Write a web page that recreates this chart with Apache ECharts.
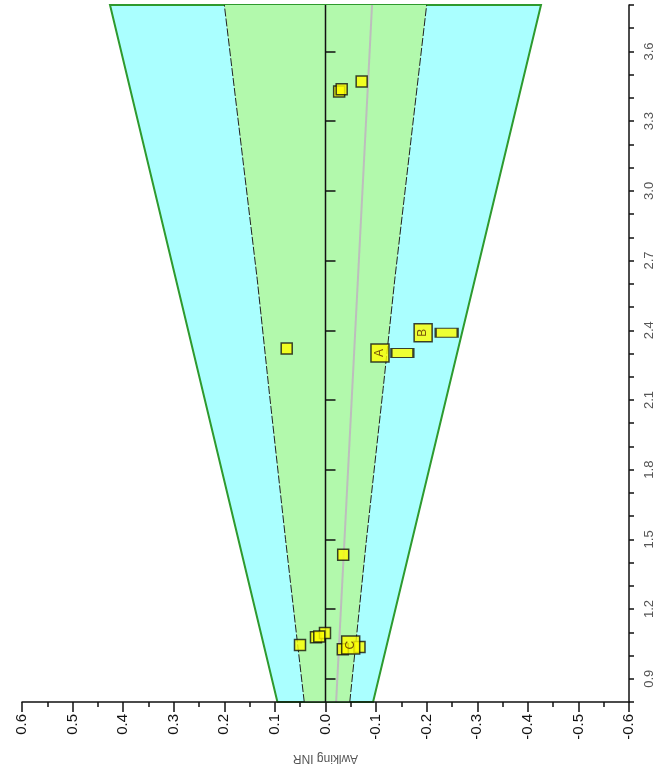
<!DOCTYPE html>
<html><head><meta charset="utf-8">
<script src="https://cdn.jsdelivr.net/npm/echarts@6/dist/echarts.min.js"></script>
<style>html,body{margin:0;padding:0;background:#fff}#c{width:664px;height:771px}</style>
</head><body><div id="c"></div>
<script>
// ---- data ----
const yMajorTicks = [0.9, 1.2, 1.5, 1.8, 2.1, 2.4, 2.7, 3.0, 3.3, 3.6];
const funnelY = [0.8, 3.8];
const outerLeft = [0.095, 0.426];
const outerRight = [-0.094, -0.426];
const innerY = [0.8, 1.5, 2.15, 2.62, 3.8];
const innerLeft = [0.042, 0.079, 0.112, 0.135, 0.2];
const innerRight = [-0.048, -0.081, -0.114, -0.137, -0.2];
const centerX = [0, 0];
const trendX = [-0.021, -0.092];
const smallX = [-0.027, -0.032, -0.0715, 0.0767, -0.035, 0.0504, 0.0188, 0.001, 0.0123, -0.0342, -0.0672];
const smallY = [3.428, 3.437, 3.471, 2.321, 1.434, 1.045, 1.079, 1.097, 1.082, 1.027, 1.037];
const barX = [-0.152, -0.2395];
const barY = [2.302, 2.389];
const bigLabels = ['A', 'B', 'C'];
const bigX = [-0.1077, -0.193, -0.0498];
const bigY = [2.302, 2.389, 1.045];

// ---- helpers ----
function polygonSeries(xs, ys, style, z) {
  return {
    type: 'custom', coordinateSystem: 'cartesian2d', silent: true, z: z,
    data: [[xs[0], ys[0]]],
    renderItem: function (params, api) {
      return { type: 'polygon', shape: { points: xs.map((x, i) => api.coord([x, ys[i]])) }, style: style };
    }
  };
}
function lineSeries(xs, ys, lineStyle, z) {
  return {
    type: 'line', silent: true, z: z, showSymbol: false, symbol: 'none',
    data: xs.map((x, i) => [x, ys[i]]), lineStyle: lineStyle, animation: false
  };
}
const rev = a => a.slice().reverse();

const outerXs = outerLeft.concat(rev(outerRight));
const outerYs = funnelY.concat(rev(funnelY));
const innerXs = innerLeft.concat(rev(innerRight));
const innerYs = innerY.concat(rev(innerY));

const symStyle = { color: '#ffff00', borderColor: '#111', borderWidth: 1.5 };

const option = {
  animation: false,
  backgroundColor: '#fff',
  grid: { left: 22, right: 35, top: 5, bottom: 69, containLabel: false, outerBoundsMode: 'none' },
  xAxis: {
    type: 'value', min: -0.6, max: 0.6, interval: 0.1, inverse: true, z: 10,
    name: 'Awlking INR', nameLocation: 'middle', nameGap: 50, nameRotate: 180,
    nameTextStyle: { color: '#555', fontSize: 12, fontFamily: 'Liberation Sans' },
    axisLine: { onZero: false, lineStyle: { color: '#111', width: 1.5 } },
    axisTick: { length: 10, lineStyle: { color: '#111', width: 1.5 } },
    minorTick: { show: true, splitNumber: 2, length: 5, lineStyle: { color: '#111', width: 1.5 } },
    axisLabel: { rotate: 90, margin: 12, fontSize: 15, color: '#111', fontFamily: 'Liberation Sans',
      formatter: v => (Math.abs(v) < 1e-9 ? '0.0' : v.toFixed(1)) },
    splitLine: { show: false }
  },
  yAxis: [{
    type: 'value', min: 0.8, max: 3.8, interval: 0.1, position: 'right', z: 10,
    name: 'INR', nameLocation: 'middle', nameGap: 29,
    nameTextStyle: { color: '#555', fontSize: 11, fontFamily: 'Liberation Sans' },
    axisLine: { onZero: false, lineStyle: { color: '#111', width: 1.5 } },
    axisTick: { length: 5, lineStyle: { color: '#111', width: 1.5 } },
    axisLabel: { rotate: 90, margin: 14, fontSize: 13, color: '#555', fontFamily: 'Liberation Sans',
      customValues: yMajorTicks, formatter: v => v.toFixed(1) },
    splitLine: { show: false }
  }, {
    type: 'value', min: 0.8, max: 3.8, position: 'right', z: 10,
    axisLine: { show: false },
    axisTick: { show: true, length: 10, customValues: yMajorTicks, lineStyle: { color: '#111', width: 1.5 } },
    axisLabel: { show: false },
    splitLine: { show: false }
  }],
  series: [
    polygonSeries(outerXs, outerYs, { fill: '#aaffff', stroke: '#2e9a2e', lineWidth: 2 }, 1),
    polygonSeries(innerXs, innerYs, { fill: '#b2f9ac', stroke: null }, 2),
    lineSeries(innerLeft, innerY, { color: '#222', width: 1, type: [8, 2] }, 3),
    lineSeries(innerRight, innerY, { color: '#222', width: 1, type: [8, 2] }, 3),
    lineSeries(centerX, funnelY, { color: '#111', width: 1.5 }, 3),
    lineSeries(trendX, funnelY, { color: '#bdbdbd', width: 2 }, 3),
    {
      type: 'scatter', z: 5, symbol: 'rect', symbolSize: 11, itemStyle: symStyle,
      data: smallX.map((x, i) => [x, smallY[i]])
    },
    {
      type: 'scatter', z: 6, symbol: 'rect', symbolSize: [22, 9], itemStyle: symStyle,
      data: barX.map((x, i) => [x, barY[i]])
    },
    {
      type: 'scatter', z: 7, symbol: 'rect', symbolSize: 18, itemStyle: symStyle,
      data: bigX.map((x, i) => ({ value: [x, bigY[i]], name: bigLabels[i] })),
      label: { show: true, position: 'inside', formatter: p => p.name, rotate: 90,
        color: '#5a2a00', fontSize: 12, fontFamily: 'Liberation Sans' }
    }
  ]
};
const chart = echarts.init(document.getElementById('c'), null, { renderer: 'canvas' });
chart.setOption(option);
</script>
</body></html>
